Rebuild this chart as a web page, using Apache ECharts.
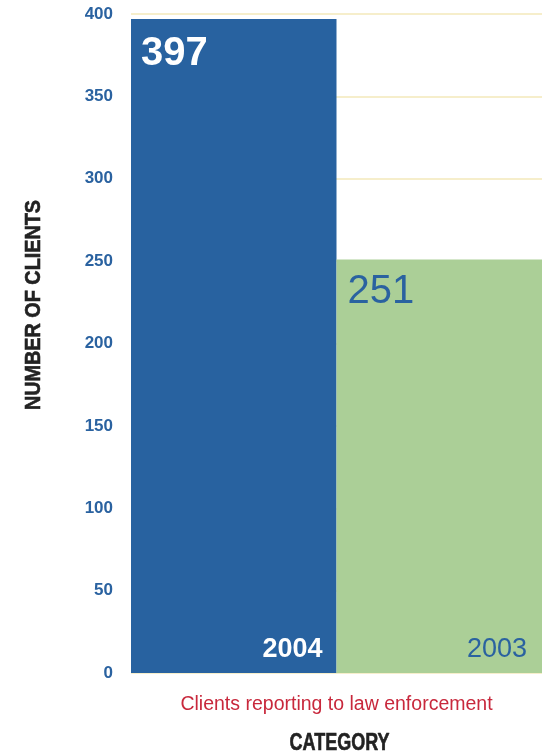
<!DOCTYPE html>
<html>
<head>
<meta charset="utf-8">
<script src="https://cdn.jsdelivr.net/npm/echarts@6/dist/echarts.min.js"></script>
<style>
  html, body { margin: 0; padding: 0; background: #ffffff; }
  #chart { width: 550px; height: 755px; }
</style>
</head>
<body>
<div id="chart"></div>
<script>
// Clients reporting to law enforcement, by year
const years = ['2004', '2003'];
const clients = [397, 251];
const barColors = ['#2862a0', '#abcf97'];
const labelColors = ['#ffffff', '#2a62a0'];
const labelWeights = ['bold', 'normal'];
const categoryName = 'Clients reporting to law enforcement';
const yTicks = { min: 0, max: 400, interval: 50 };

const chart = echarts.init(document.getElementById('chart'), null, { renderer: 'canvas' });

const font = 'Liberation Sans, Arial, Helvetica, sans-serif';

// per-bar placement of the value (top left) and year (bottom right) captions
const valueLabelPos = [
  { distance: 10, offset: [0, 5] },
  { distance: 11, offset: [0, 1] }
];
const yearLabelPos = [
  { distance: 14, offset: [0, 4] },
  { distance: 15, offset: [0, 5] }
];

chart.setOption({
  animation: false,
  grid: { left: 131, right: 8, top: 14, bottom: 82 },
  xAxis: {
    type: 'category',
    data: years,
    axisLine: { show: false },
    axisTick: { show: false },
    axisLabel: { show: false },
    name: categoryName,
    nameLocation: 'middle',
    nameGap: 22,
    nameTextStyle: { color: '#c8283c', fontSize: 19.5, fontFamily: font }
  },
  yAxis: {
    type: 'value',
    min: yTicks.min,
    max: yTicks.max,
    interval: yTicks.interval,
    axisLine: { show: false },
    axisTick: { show: false },
    axisLabel: {
      color: '#2a62a0', fontSize: 17, fontWeight: 'bold', fontFamily: font, margin: 18
    },
    splitLine: { lineStyle: { color: '#f6eecb', width: 2 } }
  },
  series: [
    {
      type: 'bar',
      barCategoryGap: 0,
      barGap: '-100%',
      data: clients.map((v, i) => ({
        value: v,
        itemStyle: { color: barColors[i] },
        label: {
          color: labelColors[i],
          fontWeight: labelWeights[i],
          distance: valueLabelPos[i].distance,
          offset: valueLabelPos[i].offset
        }
      })),
      label: {
        show: true,
        position: 'insideTopLeft',
        fontSize: 40,
        fontFamily: font,
        formatter: '{c}'
      }
    },
    {
      // year captions sit on the same bars, at their bottom right corners
      type: 'bar',
      barCategoryGap: 0,
      barGap: '-100%',
      silent: true,
      data: clients.map((v, i) => ({
        value: v,
        itemStyle: { color: 'rgba(0,0,0,0)' },
        label: {
          color: labelColors[i],
          fontWeight: labelWeights[i],
          distance: yearLabelPos[i].distance,
          offset: yearLabelPos[i].offset
        }
      })),
      label: {
        show: true,
        position: 'insideBottomRight',
        fontSize: 27,
        fontFamily: font,
        formatter: '{b}'
      }
    }
  ],
  graphic: [
    {
      // condensed heavy axis titles
      type: 'text',
      x: 34, y: 305,
      rotation: Math.PI / 2,
      scaleX: 0.9,
      style: {
        text: 'NUMBER OF CLIENTS',
        fill: '#222222',
        stroke: '#222222',
        lineWidth: 0.6,
        font: 'bold 22px ' + font,
        align: 'center',
        verticalAlign: 'middle'
      }
    },
    {
      type: 'text',
      x: 339.5, y: 743,
      scaleX: 0.75,
      style: {
        text: 'CATEGORY',
        fill: '#222222',
        stroke: '#222222',
        lineWidth: 0.6,
        font: 'bold 24px ' + font,
        align: 'center',
        verticalAlign: 'middle'
      }
    }
  ]
});
</script>
</body>
</html>
